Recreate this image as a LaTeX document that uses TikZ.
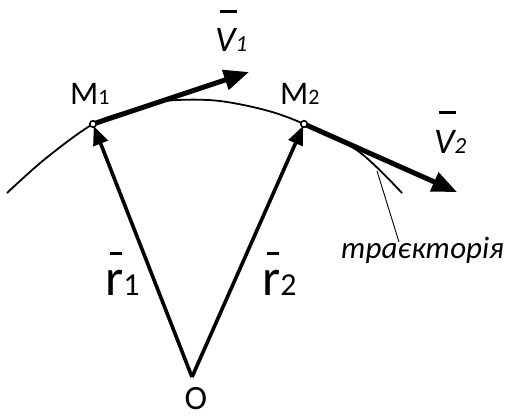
\documentclass[tikz,border=0pt]{standalone}
\usepackage{fontspec}
\setmainfont{Carlito}
\usetikzlibrary{arrows.meta}
\newcommand\barred[4]{\rlap{\hspace*{#2}\rule[#1]{#3}{3pt}}#4}
\newcommand\fsz[1]{\fontsize{#1}{#1}\selectfont}
\begin{document}
\begin{tikzpicture}[x=1pt,y=-1pt,
  traj/.style={line width=1.8pt},
  rvec/.style={line width=3.6pt,shorten >=2pt,-{Triangle[length=19pt,width=15pt]}},
  vvec/.style={line width=5pt,-{Triangle[length=25pt,width=20pt]}},
  ptmark/.style={circle,draw,fill=white,line width=1.6pt,inner sep=0pt,minimum size=6.5pt},
  lbl/.style={inner sep=0pt,anchor=base west}]
\useasboundingbox[fill=white] (0,0) rectangle (513,417);
\coordinate (O) at (192,377);
\coordinate (M1) at (93,124);
\coordinate (M2) at (304,124);
\coordinate (v1tip) at (249,72);
\coordinate (v2tip) at (457,192);
% trajectory
\draw[traj] plot[smooth,tension=0.55] coordinates {(7,193) (45,159) (93,124) (130,110.5) (165,101) (215,100.5) (265,110) (304,124) (358,151) (402,193)};
% radius vectors
\draw[rvec] (O) -- (M1);
\draw[rvec] (O) -- (M2);
% velocity vectors
\draw[vvec] (M1) -- (v1tip);
\draw[vvec] (M2) -- (v2tip);
% points
\node[ptmark] (P1) at (M1) {};
\node[ptmark] (P2) at (M2) {};
% labels
\node[lbl,font=\fsz{33}] (lM1) at (70,105) {M\fsz{22}1};
\node[lbl,font=\fsz{33}] (lM2) at (280,105) {M\fsz{22}2};
\node[lbl,font=\fsz{36}] (lv1) at (215,52) {\barred{38.5pt}{5pt}{17pt}{\itshape V}\fsz{23}1};
\node[lbl,font=\fsz{36}] (lv2) at (434,153) {\barred{38.5pt}{5pt}{17pt}{\itshape V}\fsz{23}2};
\node[lbl,font=\fsz{52}] (lr1) at (105,295) {\barred{40.5pt}{5pt}{12pt}{r}\fsz{32}1};
\node[lbl,font=\fsz{52}] (lr2) at (262,295) {\barred{40.5pt}{5pt}{12pt}{r}\fsz{32}2};
\node[anchor=base,inner sep=0pt,font=\fsz{34}] (lO) at (196,409) {O};
\node[lbl,font=\itshape\fsz{31}] (ltraj) at (341,258) {траєкторія};
\coordinate (lead1) at (377,171);
\coordinate (lead2) at (399,242);
\draw[line width=0.9pt] (lead1) -- (lead2);
\end{tikzpicture}
\end{document}
